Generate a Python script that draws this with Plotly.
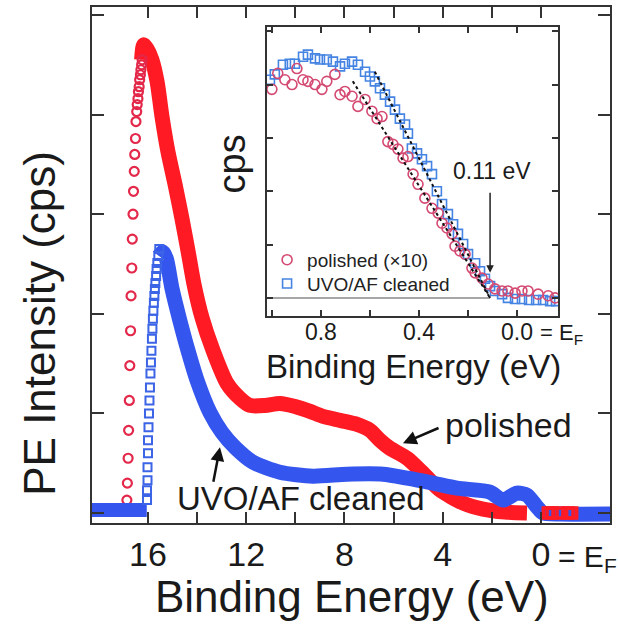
import plotly.graph_objects as go

FONT = "Liberation Sans"

# ---------------- main panel data (binding energy eV, intensity a.u.) ----------------
red_edge_E = [16.86, 16.84, 16.81, 16.79, 16.76, 16.74, 16.71, 16.69, 16.66, 16.64,
              16.61, 16.59, 16.56, 16.54, 16.51, 16.49, 16.46, 16.44, 16.41, 16.39,
              16.36, 16.34, 16.31, 16.29, 16.26, 16.24]
red_edge_I = [0.13, 0.30, 0.55, 0.83, 1.13, 1.48, 1.83, 2.18, 2.46, 2.75,
              3.00, 3.23, 3.43, 3.60, 3.76, 3.93, 4.03, 4.10, 4.16, 4.23,
              4.28, 4.35, 4.40, 4.45, 4.50, 4.55]

red_E = [16.26, 16.18, 16.04, 15.84, 15.63, 15.43, 15.19, 14.90, 14.62, 14.37,
         14.13, 13.80, 13.35, 12.78, 12.25, 11.85, 11.24, 10.63, 10.01, 9.40,
         8.87, 8.18, 7.49, 6.96, 6.55, 6.15, 5.45, 4.80, 4.11, 3.17,
         2.36, 1.46, 0.57]
red_I = [4.55, 4.70, 4.66, 4.55, 4.33, 3.98, 3.63, 3.30, 2.96, 2.63,
         2.30, 1.96, 1.63, 1.30, 1.15, 1.08, 1.08, 1.10, 1.07, 1.02,
         0.97, 0.93, 0.89, 0.83, 0.73, 0.65, 0.55, 0.40, 0.23, 0.10,
         0.04, 0.01, 0.00]

red_tail_E = [-0.30, -0.45, -0.70, -1.10, -1.25]
red_tail_I = [0.0, 0.0, 0.0, 0.0, 0.0]

blue_base_E = [18.6, 17.3, 16.05]
blue_base_I = [0.03, 0.03, 0.03]

blue_edge_E = [16.04, 16.04, 16.02, 16.02, 16.00, 16.00, 15.98, 15.96, 15.94, 15.92,
               15.90, 15.88, 15.86, 15.84, 15.82, 15.80, 15.78, 15.76, 15.74, 15.72,
               15.70, 15.67, 15.65, 15.62, 15.58, 15.54]
blue_edge_I = [0.13, 0.23, 0.33, 0.46, 0.60, 0.73, 0.86, 1.00, 1.13, 1.26,
               1.40, 1.51, 1.63, 1.75, 1.85, 1.95, 2.03, 2.11, 2.18, 2.25,
               2.31, 2.38, 2.45, 2.51, 2.58, 2.65]

blue_E = [15.55, 15.40, 15.25, 15.02, 14.70, 14.37, 14.00, 13.48, 12.99, 12.46,
          11.72, 10.63, 9.28, 7.90, 6.43, 5.45, 4.40, 3.42, 2.08, 1.55,
          0.98, 0.57, 0.16, -0.08, -0.77, -3.0]
blue_I = [2.58, 2.62, 2.55, 2.25, 1.93, 1.63, 1.33, 1.01, 0.81, 0.66,
          0.51, 0.41, 0.37, 0.39, 0.39, 0.35, 0.30, 0.25, 0.21, 0.13,
          0.20, 0.18, 0.06, 0.00, -0.01, -0.01]

main_xticks = [16, 14, 12, 10, 8, 6, 4, 2, 0]
main_xticktext = ["16", "", "12", "", "8", "", "4", "", "0"]
main_yticks = [0, 1, 2, 3, 4, 5]

# ---------------- inset data ----------------
inset_blue_E = [1.008, 0.988, 0.955, 0.927, 0.906, 0.873, 0.853, 0.824, 0.804, 0.776,
                0.751, 0.722, 0.702, 0.673, 0.649, 0.620, 0.600, 0.580, 0.559, 0.539,
                0.518, 0.498, 0.478, 0.457, 0.445, 0.429, 0.408, 0.388, 0.367, 0.347,
                0.327, 0.306, 0.282, 0.261, 0.241, 0.220, 0.200, 0.171, 0.151, 0.131,
                0.110, 0.090, 0.061, 0.037, 0.008, -0.020, -0.049, -0.078, -0.106, -0.135,
                -0.159]
inset_blue_I = [4.09, 4.19, 4.37, 4.39, 4.39, 4.52, 4.56, 4.49, 4.47, 4.47,
                4.43, 4.34, 4.39, 4.43, 4.37, 4.24, 4.15, 4.06, 3.93, 3.81,
                3.68, 3.53, 3.36, 3.25, 3.08, 2.80, 2.71, 2.60, 2.47, 2.32,
                2.00, 1.76, 1.57, 1.38, 1.20, 1.01, 0.82, 0.65, 0.50, 0.36,
                0.22, 0.13, 0.07, 0.00, -0.02, -0.02, -0.04, -0.04, -0.04, -0.06,
                -0.06]

inset_red_E = [1.000, 0.976, 0.947, 0.918, 0.898, 0.873, 0.853, 0.824, 0.796, 0.776,
               0.743, 0.722, 0.702, 0.673, 0.649, 0.620, 0.592, 0.571, 0.551, 0.527,
               0.506, 0.486, 0.465, 0.445, 0.424, 0.404, 0.376, 0.347, 0.322, 0.306,
               0.286, 0.265, 0.253, 0.233, 0.212, 0.184, 0.171, 0.143, 0.118, 0.090,
               0.061, 0.037, 0.008, -0.020, -0.045, -0.086, -0.127, -0.155]
inset_red_I = [3.91, 4.21, 4.09, 4.00, 4.30, 4.09, 4.06, 4.00, 3.91, 4.06,
               4.19, 3.81, 3.87, 3.78, 3.59, 3.72, 3.50, 3.36, 3.40, 2.93,
               2.88, 2.79, 2.62, 2.65, 2.32, 2.13, 1.87, 1.68, 1.59, 1.40,
               1.31, 1.20, 0.97, 0.88, 0.82, 0.56, 0.47, 0.37, 0.26, 0.17,
               0.13, 0.13, 0.09, 0.13, 0.13, 0.07, 0.04, 0.00]

fit_red_E = [0.67, 0.11]
fit_red_I = [4.06, 0.0]
fit_blue_E = [0.58, 0.11]
fit_blue_I = [4.24, 0.0]
inset_base_E = [1.02, 0.11]
inset_base_I = [0.0, 0.0]
onset_E = 0.11

inset_xticks = [1.0, 0.8, 0.6, 0.4, 0.2, 0.0]
inset_xticktext = ["", "0.8", "", "0.4", "", "0.0"]
inset_yticks = [0, 1, 2, 3, 4, 5]

RED = "#ff1a24"
RED_EDGE = "#e3284a"
BLUE = "#3456ee"
BLUE_EDGE = "#3c64e6"
INS_RED = "#d44a72"
INS_BLUE = "#4584e2"
AX = "#333333"

fig = go.Figure()

# main panel
fig.add_trace(go.Scatter(x=red_E, y=red_I, mode="lines",
                         line=dict(color=RED, width=15, shape="spline", smoothing=0.7),
                         showlegend=False, hoverinfo="skip"))
fig.add_trace(go.Scatter(x=red_edge_E, y=red_edge_I, mode="markers",
                         marker=dict(symbol="circle-open", size=9, color=RED_EDGE,
                                     line=dict(width=2.2, color=RED_EDGE)),
                         showlegend=False, hoverinfo="skip"))
fig.add_trace(go.Scatter(x=blue_base_E, y=blue_base_I, mode="lines",
                         line=dict(color=BLUE, width=14),
                         showlegend=False, hoverinfo="skip"))
fig.add_trace(go.Scatter(x=blue_E, y=blue_I, mode="lines",
                         line=dict(color=BLUE, width=15, shape="spline", smoothing=0.7),
                         showlegend=False, hoverinfo="skip"))
fig.add_trace(go.Scatter(x=blue_edge_E, y=blue_edge_I, mode="markers",
                         marker=dict(symbol="square-open", size=8, color=BLUE_EDGE,
                                     line=dict(width=2, color=BLUE_EDGE)),
                         showlegend=False, hoverinfo="skip"))
fig.add_trace(go.Scatter(x=red_tail_E, y=red_tail_I, mode="markers",
                         marker=dict(symbol="square-open", size=10, color=RED,
                                     line=dict(width=3.5, color=RED)),
                         showlegend=False, hoverinfo="skip"))

# inset
fig.add_trace(go.Scatter(x=inset_base_E, y=inset_base_I, mode="lines",
                         line=dict(color="#8a8a8a", width=1.5),
                         xaxis="x2", yaxis="y2", showlegend=False, hoverinfo="skip"))
fig.add_trace(go.Scatter(x=inset_blue_E, y=inset_blue_I, mode="markers",
                         name="UVO/AF cleaned", legend="legend2",
                         marker=dict(symbol="square-open", size=9, color=INS_BLUE,
                                     line=dict(width=1.6, color=INS_BLUE)),
                         xaxis="x2", yaxis="y2", showlegend=True,
                         hoverinfo="skip"))
fig.add_trace(go.Scatter(x=inset_red_E, y=inset_red_I, mode="markers",
                         name="polished (×10)", legend="legend",
                         marker=dict(symbol="circle-open", size=10, color=INS_RED,
                                     line=dict(width=1.6, color=INS_RED)),
                         xaxis="x2", yaxis="y2", showlegend=True,
                         hoverinfo="skip"))
fig.add_trace(go.Scatter(x=fit_red_E, y=fit_red_I, mode="lines",
                         line=dict(color="#111111", width=2, dash="dot"),
                         xaxis="x2", yaxis="y2", showlegend=False, hoverinfo="skip"))
fig.add_trace(go.Scatter(x=fit_blue_E, y=fit_blue_I, mode="lines",
                         line=dict(color="#111111", width=2, dash="dot"),
                         xaxis="x2", yaxis="y2", showlegend=False, hoverinfo="skip"))

axis_common = dict(showgrid=False, zeroline=False, showline=True, linecolor=AX,
                   mirror="allticks", ticks="inside", tickcolor=AX)

legend_common = dict(xanchor="left", yanchor="middle", bgcolor="rgba(0,0,0,0)",
                     font=dict(size=19, family=FONT, color="#222"),
                     itemwidth=30, borderwidth=0)

fig.update_layout(
    width=618, height=630,
    margin=dict(l=92, r=8, t=5, b=107),
    paper_bgcolor="white", plot_bgcolor="white",
    font=dict(family=FONT, color="#1a1a1a"),
    xaxis=dict(**axis_common, domain=[0, 1], range=[18.28, -2.81],
               tickvals=main_xticks, ticktext=main_xticktext,
               ticklen=11, tickwidth=2, linewidth=2,
               tickfont=dict(size=34, family=FONT, color="#1a1a1a"),
               ticklabelstandoff=0),
    yaxis=dict(**axis_common, domain=[0, 1], range=[-0.10, 5.08],
               tickvals=main_yticks, showticklabels=False,
               ticklen=12, tickwidth=2, linewidth=2),
    xaxis2=dict(**axis_common, domain=[0.3378, 0.8996], anchor="y2",
                range=[1.02, -0.167], tickvals=inset_xticks, ticktext=inset_xticktext,
                ticklen=6, tickwidth=1.5, linewidth=1.5,
                tickfont=dict(size=23, family=FONT, color="#1a1a1a"),
                ticklabelstandoff=-5),
    yaxis2=dict(**axis_common, domain=[0.4015, 0.9614], anchor="x2",
                range=[-0.336, 5.08], tickvals=inset_yticks, showticklabels=False,
                ticklen=6, tickwidth=1.5, linewidth=1.5),
    legend=dict(**legend_common, x=0.338, y=0.510),
    legend2=dict(**legend_common, x=0.338, y=0.464),
    showlegend=True,
)

ann = []
ann.append(dict(text="PE Intensity (cps)", xref="paper", yref="paper",
                x=-0.1004, y=0.388, textangle=-90, showarrow=False,
                font=dict(size=44, family=FONT, color="#1a1a1a"),
                xanchor="center", yanchor="middle"))
ann.append(dict(text="Binding Energy (eV)", xref="paper", yref="paper",
                x=0.502, y=-0.143, showarrow=False,
                font=dict(size=44, family=FONT, color="#1a1a1a"),
                xanchor="center", yanchor="middle"))
ann.append(dict(text="= E<sub>F</sub>", xref="paper", yref="paper",
                x=0.8958, y=-0.0695, showarrow=False,
                font=dict(size=30, family=FONT, color="#1a1a1a"),
                xanchor="left", yanchor="middle"))
ann.append(dict(text="Binding Energy (eV)", xref="paper", yref="paper",
                x=0.6197, y=0.303, showarrow=False,
                font=dict(size=33, family=FONT, color="#1a1a1a"),
                xanchor="center", yanchor="middle"))
ann.append(dict(text="cps", xref="paper", yref="paper",
                x=0.2703, y=0.695, textangle=-90, showarrow=False,
                font=dict(size=38, family=FONT, color="#1a1a1a"),
                xanchor="center", yanchor="middle"))
ann.append(dict(text="= E<sub>F</sub>", xref="paper", yref="paper",
                x=0.861, y=0.3668, showarrow=False,
                font=dict(size=22, family=FONT, color="#1a1a1a"),
                xanchor="left", yanchor="middle"))
ann.append(dict(text="polished", xref="paper", yref="paper",
                x=0.805, y=0.189, showarrow=False,
                font=dict(size=34, family=FONT, color="#1a1a1a"),
                xanchor="center", yanchor="middle"))
ann.append(dict(text="UVO/AF cleaned", xref="paper", yref="paper",
                x=0.4035, y=0.0483, showarrow=False,
                font=dict(size=33, family=FONT, color="#1a1a1a"),
                xanchor="center", yanchor="middle"))
# arrows
ann.append(dict(text="", x=5.62, y=0.70, xref="x", yref="y",
                ax=4.11, ay=0.86, axref="x", ayref="y",
                showarrow=True, arrowhead=2, arrowsize=1.1, arrowwidth=2.5,
                arrowcolor="#111111"))
ann.append(dict(text="", x=13.07, y=0.66, xref="x", yref="y",
                ax=13.35, ay=0.30, axref="x", ayref="y",
                showarrow=True, arrowhead=2, arrowsize=1.1, arrowwidth=2.5,
                arrowcolor="#111111"))
ann.append(dict(text="", x=onset_E, y=0.47, xref="x2", yref="y2",
                ax=onset_E, ay=2.0, axref="x2", ayref="y2",
                showarrow=True, arrowhead=2, arrowsize=1.0, arrowwidth=1.5,
                arrowcolor="#222222"))
ann.append(dict(text="0.11 eV", x=0.102, y=2.37, xref="x2", yref="y2",
                showarrow=False, font=dict(size=23, family=FONT, color="#1a1a1a"),
                xanchor="center", yanchor="middle"))
fig.update_layout(annotations=ann)

fig.write_html("out.html", config={"displayModeBar": False},
               post_script="document.body.style.margin='0';")
